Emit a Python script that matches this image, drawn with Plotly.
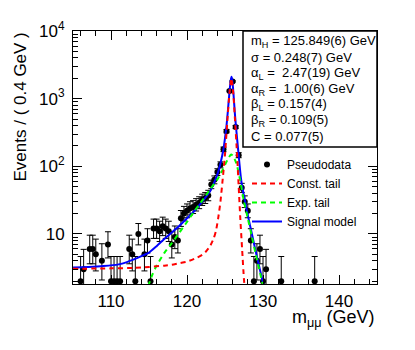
import math
import plotly.graph_objects as go

# ---------------- data ----------------
x_lo, x_hi, n_bins = 105.0, 145.0, 100
counts = [0, 0, 2, 3, 0, 6, 6, 5, 0, 4,
          0, 7, 2, 2, 2, 2, 0, 0, 6, 5,
          2, 10, 0, 5, 8, 2, 12, 12, 11, 13,
          12, 11, 7, 9, 8, 17, 20, 22, 24, 25,
          27, 29, 32, 34, 37, 54, 63, 82, 105, 178,
          330, 1300, 1800, 380, 146, 48, 30, 22, 8, 2,
          4, 6, 2, 3, 0, 0, 0, 0, 2, 0,
          0, 0, 0, 0, 0, 0, 0, 0, 0, 2,
          0, 0, 0, 0, 0, 0, 0, 0, 0, 0,
          0, 0, 0, 0, 0, 0, 0, 0, 0, 0]

signal_m = [105, 107, 109, 111, 112, 113, 114, 115, 116, 117, 118, 119, 120, 121, 122, 123,
            123.5, 124, 124.4, 124.8, 125.0, 125.2, 125.4, 125.6, 125.75, 125.85, 125.95,
            126.1, 126.3, 126.5, 126.7, 126.9, 127.1, 127.3, 127.6, 128, 128.5, 129, 129.5,
            130, 130.3]
signal_v = [3.2, 3.25, 3.35, 3.55, 3.8, 4.2, 4.7, 5.3, 6.6, 8.4, 10.5, 13.2, 17, 22, 30, 42,
            55, 76, 110, 180, 260, 400, 700, 1300, 1850, 2100, 1900,
            1250, 600, 330, 190, 110, 66, 47, 32, 19, 10.5, 5.8, 3.3,
            1.9, 1.45]

const_m = [105, 110, 113, 115, 117, 118, 119, 120, 121, 122, 122.5, 123, 123.5, 123.8,
           124.1, 124.4, 124.7, 125.0, 125.3, 125.6, 125.85, 126.1, 126.3, 126.6, 126.8,
           127.0, 127.25, 127.5, 127.7]
const_v = [3.05, 3.1, 3.15, 3.25, 3.4, 3.5, 3.7, 3.9, 4.3, 4.9, 5.5, 6.5, 8.5, 11,
           17, 30, 65, 150, 450, 1250, 2000, 1150, 520, 140, 50,
           18, 6, 2.1, 1.2]

exp_m = [114.9, 115.5, 116, 117, 118, 119, 120, 121, 122, 123, 124, 124.5, 125, 125.5,
         125.8, 126.1, 126.5, 127, 127.5, 128, 128.5, 129, 129.5, 130, 130.3]
exp_v = [1.7, 2.6, 3.4, 5.2, 7.3, 10.5, 15, 22, 31, 45, 64, 80, 105, 135,
         150, 140, 110, 62, 30, 17, 9.5, 5.3, 3.0, 1.75, 1.3]

param_lines = ["m<sub>H</sub> = 125.849(6) GeV",
               "σ = 0.248(7) GeV",
               "α<sub>L</sub> = \u00a02.47(19) GeV",
               "α<sub>R</sub> = \u00a01.00(6) GeV",
               "β<sub>L</sub> = 0.157(4)",
               "β<sub>R</sub> = 0.109(5)",
               "C = 0.077(5)"]

y_tick_vals = [10, 100, 1000, 10000]
y_tick_text = ["10", "10<sup>2</sup>", "10<sup>3</sup>", "10<sup>4</sup>"]
x_tick_vals = [110, 120, 130, 140]

# ---------------- helpers ----------------
ALPHA = 0.158655


def pois_cdf(n, mu):
    if mu <= 0:
        return 1.0
    lm = math.log(mu)
    return sum(math.exp(i * lm - mu - math.lgamma(i + 1)) for i in range(n + 1))


def bisect(f, lo, hi, target):
    # f decreasing in mu
    for _ in range(60):
        mid = 0.5 * (lo + hi)
        if f(mid) > target:
            lo = mid
        else:
            hi = mid
    return 0.5 * (lo + hi)


def poisson_interval(n):
    hi = bisect(lambda mu: pois_cdf(n, mu), n, n + 10 * math.sqrt(n) + 10, ALPHA)
    lo = 0.0 if n == 0 else bisect(lambda mu: pois_cdf(n - 1, mu), 0, n, 1 - ALPHA)
    return lo, hi


width = (x_hi - x_lo) / n_bins
xs, ys, eup, edn = [], [], [], []
for i, n in enumerate(counts):
    if n <= 0:
        continue
    lo, hi = poisson_interval(n)
    xs.append(x_lo + (i + 0.5) * width)
    ys.append(n)
    eup.append(hi - n)
    edn.append(n - lo)

FONT = "Liberation Sans, Arial, sans-serif"
DASH = "5px,4px"

fig = go.Figure()
fig.add_trace(go.Scatter(
    x=xs, y=ys, mode="markers", name="Pseudodata", legendrank=1,
    marker=dict(color="black", size=6),
    error_y=dict(type="data", symmetric=False, array=eup, arrayminus=edn,
                 color="black", thickness=1, width=3),
    cliponaxis=False))
fig.add_trace(go.Scatter(x=signal_m, y=signal_v, mode="lines", name="Signal model",
                         legendrank=4, line=dict(color="#0000ff", width=2, shape="spline",
                                                 smoothing=0.6)))
fig.add_trace(go.Scatter(x=exp_m, y=exp_v, mode="lines", name="Exp. tail", legendrank=3,
                         line=dict(color="#00ff00", width=2, dash=DASH, shape="spline",
                                   smoothing=0.6)))
fig.add_trace(go.Scatter(x=const_m, y=const_v, mode="lines", name="Const. tail",
                         legendrank=2, line=dict(color="#ff0000", width=2, dash=DASH,
                                                 shape="spline", smoothing=0.6)))

# plot area geometry (px)
L, R, T, B = 73, 377, 31, 284
W, H = 415, 350


def px2paper_x(px):
    return (px - L) / (R - L)


def px2paper_y(py):
    return (B - py) / (B - T)


minor_x = [v for v in range(106, 145, 2) if v % 10 != 0]
minor_y = [m * 10 ** e for e in range(0, 4) for m in range(2, 10)]

fig.update_layout(
    width=W, height=H,
    margin=dict(l=L, r=W - R, t=T, b=H - B),
    paper_bgcolor="white", plot_bgcolor="white",
    font=dict(family=FONT, color="black", size=17),
    showlegend=True,
    legend=dict(x=px2paper_x(247), y=px2paper_y(150), xanchor="left", yanchor="top",
                bgcolor="rgba(0,0,0,0)", font=dict(size=12), tracegroupgap=0),
    xaxis=dict(range=[x_lo, x_hi], showline=True, linecolor="black", linewidth=1,
               mirror="ticks", ticks="inside", ticklen=9, tickwidth=1, tickcolor="black",
               tickmode="array", tickvals=x_tick_vals, showgrid=False, zeroline=False,
               ticklabelstandoff=2,
               minor=dict(tickmode="array", tickvals=minor_x, ticks="inside",
                          ticklen=5, tickcolor="black", showgrid=False)),
    yaxis=dict(type="log", range=[0.26, 4], showline=True, linecolor="black", linewidth=1,
               mirror="ticks", ticks="inside", ticklen=9, tickwidth=1, tickcolor="black",
               tickmode="array", tickvals=y_tick_vals, ticktext=y_tick_text,
               showgrid=False, zeroline=False, ticklabelstandoff=4,
               minor=dict(tickmode="array", tickvals=minor_y, ticks="inside",
                          ticklen=5, tickcolor="black", showgrid=False)),
)

# axis titles
fig.add_annotation(text="Events / ( 0.4 GeV )", textangle=-90, xref="paper", yref="paper",
                   x=px2paper_x(20), y=1.0, xanchor="center", yanchor="top",
                   showarrow=False, font=dict(size=17))
fig.add_annotation(text="m<sub>μμ</sub> (GeV)", xref="paper", yref="paper",
                   x=1.0, y=px2paper_y(318), xanchor="right", yanchor="middle",
                   showarrow=False, font=dict(size=18))

# parameter box
fig.add_shape(type="rect", xref="paper", yref="paper",
              x0=px2paper_x(243), x1=1.0, y0=px2paper_y(147), y1=1.0,
              line=dict(color="black", width=1.5), fillcolor="white", layer="above")
for i, txt in enumerate(param_lines):
    fig.add_annotation(text=txt, xref="paper", yref="paper",
                       x=px2paper_x(249), y=px2paper_y(42 + 15.7 * i),
                       xanchor="left", yanchor="middle", showarrow=False,
                       font=dict(size=13))

fig.write_html("out.html", config={"displayModeBar": False},
               post_script="document.body.style.margin='0';"
                           "document.body.style.overflow='hidden';")
